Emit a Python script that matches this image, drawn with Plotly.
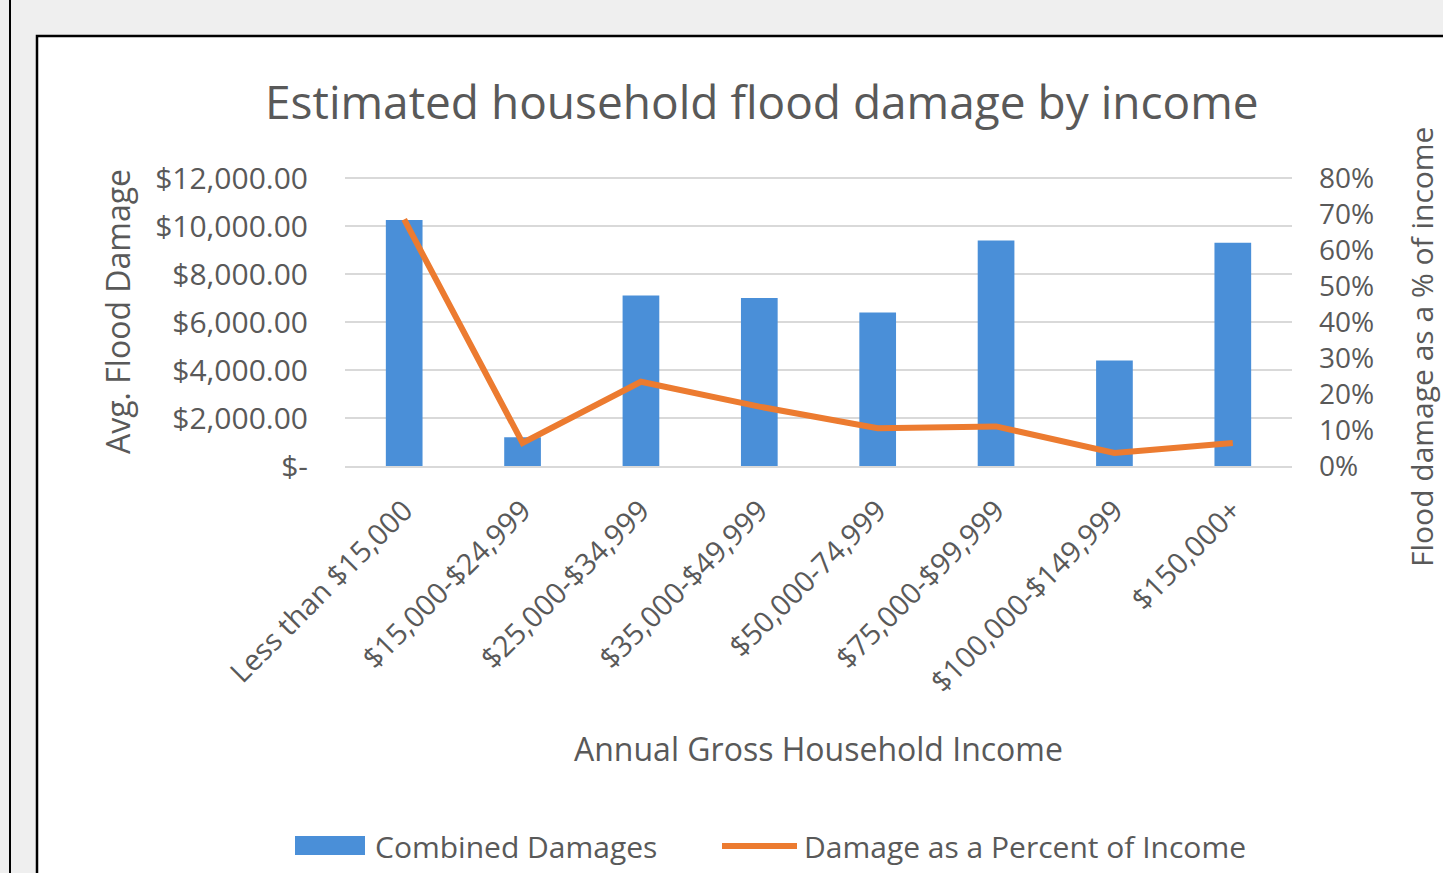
import plotly.graph_objects as go

categories = ["Less than $15,000", "$15,000-$24,999", "$25,000-$34,999", "$35,000-$49,999",
              "$50,000-74,999", "$75,000-$99,999", "$100,000-$149,999", "$150,000+"]
combined_damages = [10250, 1200, 7100, 7000, 6400, 9400, 4400, 9300]
damage_pct_income = [0.685, 0.064, 0.234, 0.165, 0.105, 0.11, 0.036, 0.064]
left_tickvals = [0, 2000, 4000, 6000, 8000, 10000, 12000]
left_ticktext = ["$-", "$2,000.00", "$4,000.00", "$6,000.00", "$8,000.00", "$10,000.00", "$12,000.00"]

W, H = 1443, 873
L, R, T, B = 345, 1292, 176, 466  # plot area in pixels (top padded 2px so the 12,000 gridline shows)
FONT = "Open Sans"
TXT = "#595959"
BLUE = "#4a8fd8"
ORANGE = "#ec7b30"
Y_TOP = 12000 * (B - T) / (B - 178)
Y2_TOP = 0.8 * (B - T) / (B - 178)


def px(x):
    return (x - L) / (R - L)


def py(y):
    return (B - y) / (B - T)


fig = go.Figure()
fig.add_trace(go.Bar(x=categories, y=combined_damages, name="Combined Damages",
                     marker=dict(color=BLUE, line=dict(width=0)), yaxis="y"))
fig.add_trace(go.Scatter(x=categories, y=damage_pct_income, name="Damage as a Percent of Income",
                         mode="lines", line=dict(color=ORANGE, width=6), yaxis="y2"))

shapes = [
    dict(type="rect", xref="paper", yref="paper", x0=px(37), x1=px(1460), y0=py(36), y1=py(890),
         fillcolor="white", line=dict(color="black", width=2.5), layer="below"),
    dict(type="line", xref="paper", yref="paper", x0=px(10), x1=px(10), y0=py(-5), y1=py(890),
         line=dict(color="black", width=2), layer="below"),
    dict(type="rect", xref="paper", yref="paper", x0=px(295), x1=px(365), y0=py(855), y1=py(836),
         fillcolor=BLUE, line=dict(width=0)),
    dict(type="line", xref="paper", yref="paper", x0=px(722), x1=px(797), y0=py(846), y1=py(846),
         line=dict(color=ORANGE, width=6)),
]

annotations = [
    dict(text="Estimated household flood damage by income", xref="paper", yref="paper",
         x=px(762), y=py(101), showarrow=False, font=dict(family=FONT, size=46, color=TXT),
         xanchor="center", yanchor="middle"),
    dict(text="Avg. Flood Damage", xref="paper", yref="paper", x=px(117), y=py(312),
         showarrow=False, textangle=-90, font=dict(family=FONT, size=32, color=TXT),
         xanchor="center", yanchor="middle"),
    dict(text="Flood damage as a % of income", xref="paper", yref="paper", x=px(1421), y=py(347),
         showarrow=False, textangle=-90, font=dict(family=FONT, size=30, color=TXT),
         xanchor="center", yanchor="middle"),
    dict(text="Annual Gross Household Income", xref="paper", yref="paper", x=px(818), y=py(748),
         showarrow=False, font=dict(family=FONT, size=32, color=TXT),
         xanchor="center", yanchor="middle"),
    dict(text="Combined Damages", xref="paper", yref="paper", x=px(373), y=py(846),
         showarrow=False, font=dict(family=FONT, size=30, color=TXT),
         xanchor="left", yanchor="middle"),
    dict(text="Damage as a Percent of Income", xref="paper", yref="paper", x=px(802), y=py(846),
         showarrow=False, font=dict(family=FONT, size=30, color=TXT),
         xanchor="left", yanchor="middle"),
]

fig.update_layout(
    width=W, height=H,
    margin=dict(l=L, r=W - R, t=T, b=H - B, pad=0),
    paper_bgcolor="#efefef", plot_bgcolor="rgba(0,0,0,0)",
    showlegend=False, bargap=0.69,
    font=dict(family=FONT, color=TXT, size=28),
    xaxis=dict(type="category", range=[-0.5, 7.5], tickangle=-45, showgrid=False,
               showline=True, linecolor="#d9d9d9", linewidth=2, ticks="",
               ticklabelstandoff=14,
               tickfont=dict(family=FONT, size=29, color=TXT)),
    yaxis=dict(range=[0, Y_TOP], tickvals=left_tickvals, ticktext=left_ticktext,
               showgrid=True, gridcolor="#d9d9d9", gridwidth=2, zeroline=False,
               showline=False, ticks="", ticklabelstandoff=36,
               tickfont=dict(family=FONT, size=30, color=TXT)),
    yaxis2=dict(range=[0, Y2_TOP], tickvals=[0, 0.1, 0.2, 0.3, 0.4, 0.5, 0.6, 0.7, 0.8],
                tickformat=".0%", overlaying="y", side="right",
                showgrid=False, zeroline=False, showline=False, ticks="",
                ticklabelstandoff=26, tickfont=dict(family=FONT, size=28, color=TXT)),
    shapes=shapes, annotations=annotations,
)

fig.write_html("out.html")
